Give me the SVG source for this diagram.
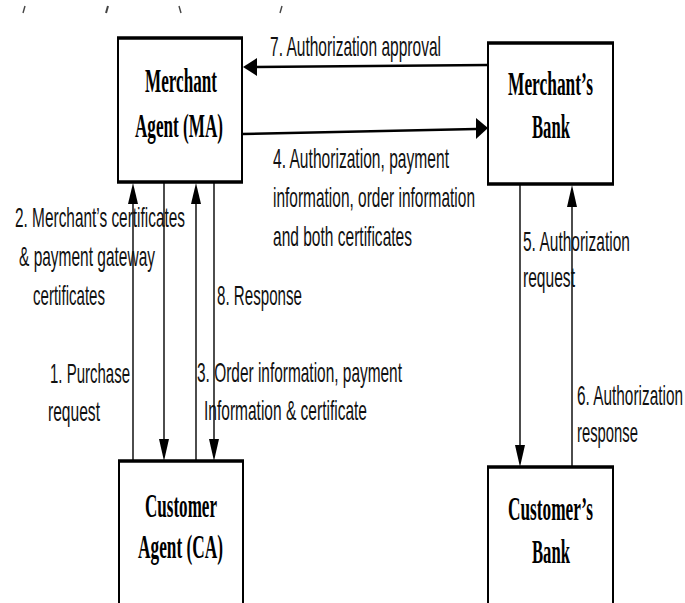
<svg xmlns="http://www.w3.org/2000/svg" width="685" height="603" viewBox="0 0 685 603">
  <style>
    .box { fill: #fff; stroke: #000; stroke-width: 2; }
    .edge { stroke: #000; stroke-width: 3.5; }
    .name { font-family: "Liberation Serif", "Times New Roman", serif; font-size: 17px; font-weight: bold; fill: #000; }
    .lbl { font-family: "Liberation Sans", Arial, sans-serif; font-size: 15px; fill: #111; }
    .thick { stroke: #000; stroke-width: 2.6; fill: none; }
    .thin { stroke: #000; stroke-width: 1.4; fill: none; }
    .head { fill: #000; }
    .tick { stroke: #444; stroke-width: 1.4; }
  </style>

  <rect width="685" height="603" fill="#fff"/>

  <!-- fragments of a clipped line above the diagram -->
  <g id="top-fragments">
    <line class="tick" x1="23" y1="13" x2="25" y2="6"/>
    <line class="tick" x1="106" y1="13" x2="108" y2="6" style="stroke-width:2"/>
    <line class="tick" x1="179" y1="6" x2="181" y2="13"/>
    <line class="tick" x1="280" y1="13" x2="282" y2="6"/>
  </g>

  <!-- connectors -->
  <g id="connectors">
    <!-- 7: Merchant's Bank -> MA -->
    <line class="thick" x1="488" y1="65" x2="255" y2="67"/>
    <polygon class="head" points="243,67 257,58 257,76"/>
    <!-- 4: MA -> Merchant's Bank -->
    <line class="thick" x1="242" y1="134" x2="476" y2="129"/>
    <polygon class="head" points="488,128 476,118 476,139"/>

    <!-- 1: CA -> MA (up) -->
    <line class="thin" x1="133" y1="461" x2="133" y2="200"/>
    <polygon class="head" points="133,183 128,204 138,204"/>
    <!-- 2: MA -> CA (down) -->
    <line class="thin" x1="164" y1="183" x2="164" y2="445"/>
    <polygon class="head" points="164,461 159,439 169,439"/>
    <!-- 3: CA -> MA (up) -->
    <line class="thin" x1="196" y1="461" x2="196" y2="200"/>
    <polygon class="head" points="196,183 191,204 201,204"/>
    <!-- 8: MA -> CA (down) -->
    <line class="thin" x1="214" y1="183" x2="214" y2="445"/>
    <polygon class="head" points="214,461 209,439 219,439"/>

    <!-- 5: Merchant's Bank -> Customer's Bank (down) -->
    <line class="thin" x1="520" y1="185" x2="520" y2="450"/>
    <polygon class="head" points="520,467 515,445 525,445"/>
    <!-- 6: Customer's Bank -> Merchant's Bank (up) -->
    <line class="thin" x1="572" y1="467" x2="572" y2="202"/>
    <polygon class="head" points="572,185 567,207 577,207"/>
  </g>

  <!-- nodes (names drawn in a 1:2 vertically stretched frame) -->
  <g id="merchant-agent">
    <rect class="box" x="118" y="38" width="124" height="144"/>
    <line class="edge" x1="117" y1="38" x2="243" y2="38"/>
    <line class="edge" x1="117" y1="182" x2="243" y2="182"/>
    <g transform="scale(1,2)">
      <text class="name" x="145" y="46" textLength="72" lengthAdjust="spacingAndGlyphs">Merchant</text>
      <text class="name" x="135" y="68.5" textLength="88" lengthAdjust="spacingAndGlyphs">Agent (MA)</text>
    </g>
  </g>

  <g id="merchant-bank">
    <rect class="box" x="488" y="43" width="125" height="141"/>
    <line class="edge" x1="487" y1="43" x2="614" y2="43"/>
    <line class="edge" x1="487" y1="184" x2="614" y2="184"/>
    <g transform="scale(1,2)">
      <text class="name" x="508" y="47.5" textLength="85" lengthAdjust="spacingAndGlyphs">Merchant’s</text>
      <text class="name" x="532" y="69" textLength="38" lengthAdjust="spacingAndGlyphs">Bank</text>
    </g>
  </g>

  <g id="customer-agent">
    <rect class="box" x="119" y="461" width="124" height="160"/>
    <line class="edge" x1="118" y1="461" x2="244" y2="461"/>
    <g transform="scale(1,2)">
      <text class="name" x="145" y="258.5" textLength="72" lengthAdjust="spacingAndGlyphs">Customer</text>
      <text class="name" x="138" y="279" textLength="85" lengthAdjust="spacingAndGlyphs">Agent (CA)</text>
    </g>
  </g>

  <g id="customer-bank">
    <rect class="box" x="488" y="467" width="125" height="160"/>
    <line class="edge" x1="487" y1="467" x2="614" y2="467"/>
    <g transform="scale(1,2)">
      <text class="name" x="508" y="260" textLength="85" lengthAdjust="spacingAndGlyphs">Customer’s</text>
      <text class="name" x="532" y="281.5" textLength="38" lengthAdjust="spacingAndGlyphs">Bank</text>
    </g>
  </g>

  <!-- message labels (tall, narrow lettering: vertical stretch 1.87) -->
  <g id="labels" transform="scale(1,1.87)">
    <text class="lbl" x="270" y="29.95" textLength="171" lengthAdjust="spacingAndGlyphs">7. Authorization approval</text>

    <text class="lbl" x="273" y="89.84" textLength="176" lengthAdjust="spacingAndGlyphs">4. Authorization, payment</text>
    <text class="lbl" x="273" y="110.7" textLength="202" lengthAdjust="spacingAndGlyphs">information, order information</text>
    <text class="lbl" x="273" y="131.55" textLength="139" lengthAdjust="spacingAndGlyphs">and both certificates</text>

    <text class="lbl" x="15" y="121.39" textLength="170" lengthAdjust="spacingAndGlyphs">2. Merchant’s certificates</text>
    <text class="lbl" x="19" y="142.25" textLength="136" lengthAdjust="spacingAndGlyphs">&amp; payment gateway</text>
    <text class="lbl" x="33" y="163.1" textLength="72" lengthAdjust="spacingAndGlyphs">certificates</text>

    <text class="lbl" x="217" y="163.1" textLength="85" lengthAdjust="spacingAndGlyphs">8. Response</text>

    <text class="lbl" x="50" y="204.81" textLength="80" lengthAdjust="spacingAndGlyphs">1. Purchase</text>
    <text class="lbl" x="48" y="225.13" textLength="52" lengthAdjust="spacingAndGlyphs">request</text>

    <text class="lbl" x="197" y="204.28" textLength="205" lengthAdjust="spacingAndGlyphs">3. Order information, payment</text>
    <text class="lbl" x="204" y="224.6" textLength="163" lengthAdjust="spacingAndGlyphs">Information &amp; certificate</text>

    <text class="lbl" x="523" y="134.22" textLength="107" lengthAdjust="spacingAndGlyphs">5. Authorization</text>
    <text class="lbl" x="523" y="153.48" textLength="52" lengthAdjust="spacingAndGlyphs">request</text>

    <text class="lbl" x="577" y="216.58" textLength="106" lengthAdjust="spacingAndGlyphs">6. Authorization</text>
    <text class="lbl" x="577" y="236.36" textLength="61" lengthAdjust="spacingAndGlyphs">response</text>
  </g>
</svg>
